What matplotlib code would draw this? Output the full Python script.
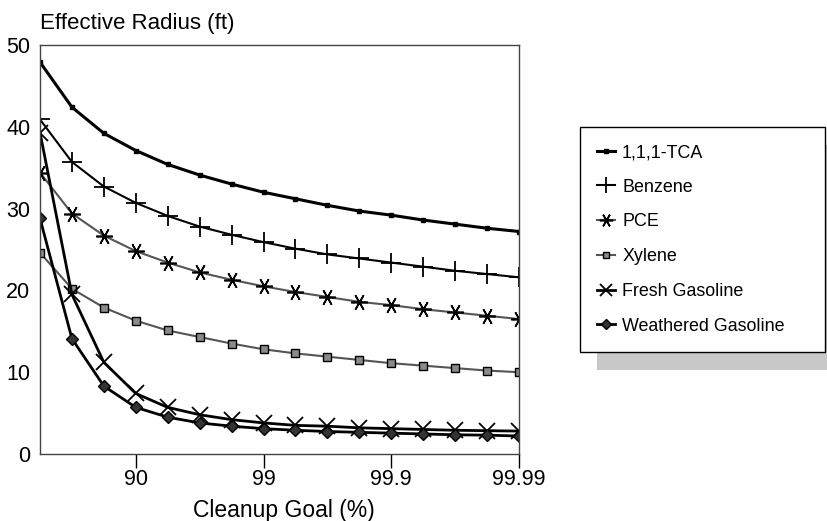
import matplotlib
matplotlib.use("Agg")
import matplotlib.pyplot as plt
from matplotlib.patches import Rectangle

plt.rcParams['font.family'] = ['Liberation Sans', 'DejaVu Sans']

# orders of magnitude of reduction (x position), 16 points
reduction = [0.25, 0.5, 0.75, 1.0, 1.25, 1.5, 1.75, 2.0,
             2.25, 2.5, 2.75, 3.0, 3.25, 3.5, 3.75, 4.0]
tick_pos = [1, 2, 3, 4]
tick_labels = ["90", "99", "99.9", "99.99"]

tca = [47.9, 42.4, 39.2, 37.1, 35.4, 34.1, 33.0, 32.0,
       31.2, 30.4, 29.7, 29.2, 28.6, 28.1, 27.6, 27.2]
benzene = [40.9, 35.7, 32.7, 30.7, 29.1, 27.8, 26.8, 25.9,
           25.1, 24.4, 23.9, 23.4, 22.9, 22.4, 22.0, 21.6]
pce = [34.4, 29.4, 26.7, 24.8, 23.4, 22.2, 21.3, 20.5,
       19.8, 19.2, 18.6, 18.2, 17.7, 17.3, 16.9, 16.5]
xylene = [24.6, 20.2, 17.9, 16.3, 15.1, 14.3, 13.5, 12.8,
          12.3, 11.9, 11.5, 11.1, 10.8, 10.5, 10.2, 10.0]
fresh = [39.3, 19.5, 11.2, 7.4, 5.7, 4.8, 4.2, 3.8,
         3.5, 3.4, 3.2, 3.1, 3.0, 2.9, 2.85, 2.8]
weathered = [28.8, 14.1, 8.3, 5.7, 4.5, 3.8, 3.4, 3.1,
             2.9, 2.75, 2.65, 2.55, 2.45, 2.35, 2.3, 2.2]

W, H = 828, 521
fig = plt.figure(figsize=(W / 100, H / 100), dpi=100)
fig.patch.set_facecolor('white')
ax = fig.add_axes([40 / W, 1 - 454 / H, (519 - 40) / W, (454 - 45) / H])

ax.plot(reduction, tca, color='black', lw=2.2, marker='s', ms=3,
        mfc='black', mec='black', label='1,1,1-TCA')
ax.plot(reduction, benzene, color='black', lw=1.5, marker='+', ms=15,
        mew=1.3, label='Benzene')
ax.plot(reduction, pce, color='#555555', lw=1.5, marker=(6, 2, 90), ms=12,
        mew=1.2, mec='black', label='PCE')
ax.plot(reduction, xylene, color='#555555', lw=1.5, marker='s', ms=6,
        mfc='#8a8a8a', mec='black', mew=1.0, label='Xylene')
ax.plot(reduction, fresh, color='black', lw=2.0, marker='x', ms=11,
        mew=1.3, label='Fresh Gasoline')
ax.plot(reduction, weathered, color='black', lw=2.0, marker='D', ms=6,
        mfc='#333333', mec='black', mew=1.0, label='Weathered Gasoline')

ax.set_xlim(0.25, 4.0)
ax.set_ylim(0, 50)
ax.set_xticks(tick_pos)
ax.set_xticklabels(tick_labels)
ax.set_yticks([0, 10, 20, 30, 40, 50])
ax.tick_params(axis='x', direction='out', length=10, width=1, labelsize=15.5, pad=1)
ax.tick_params(axis='y', length=0, labelsize=15.5, pad=7)
for s in ax.spines.values():
    s.set_color('#444444')
    s.set_linewidth(1.0)

fig.text(40 / W, 1 - 24 / H, "Effective Radius (ft)", fontsize=16,
         ha='left', va='center')
fig.text(193 / W, 1 - 510 / H, "Cleanup Goal (%)", fontsize=16.5,
         ha='left', va='center')

# legend with shadow
shadow = Rectangle((597 / W, 1 - 370 / H), (828 - 597) / W, (370 - 145) / H,
                   transform=fig.transFigure, facecolor='#c8c8c8',
                   edgecolor='none', zorder=1)
fig.add_artist(shadow)
handles, labels = ax.get_legend_handles_labels()
leg = fig.legend(handles, labels, loc='upper left',
                 bbox_to_anchor=(580 / W, 1 - 353 / H, (825 - 580) / W, (353 - 127) / H),
                 mode='expand', frameon=True, fancybox=False, fontsize=12.9,
                 handlelength=1.0, handletextpad=0.4, labelspacing=0.99,
                 borderpad=0.95, borderaxespad=0, markerscale=0.8)
leg.set_zorder(5)
fr = leg.get_frame()
fr.set_edgecolor('black')
fr.set_linewidth(1.0)
fr.set_facecolor('white')
fr.set_alpha(1)

fig.savefig('out.png', dpi=100)
